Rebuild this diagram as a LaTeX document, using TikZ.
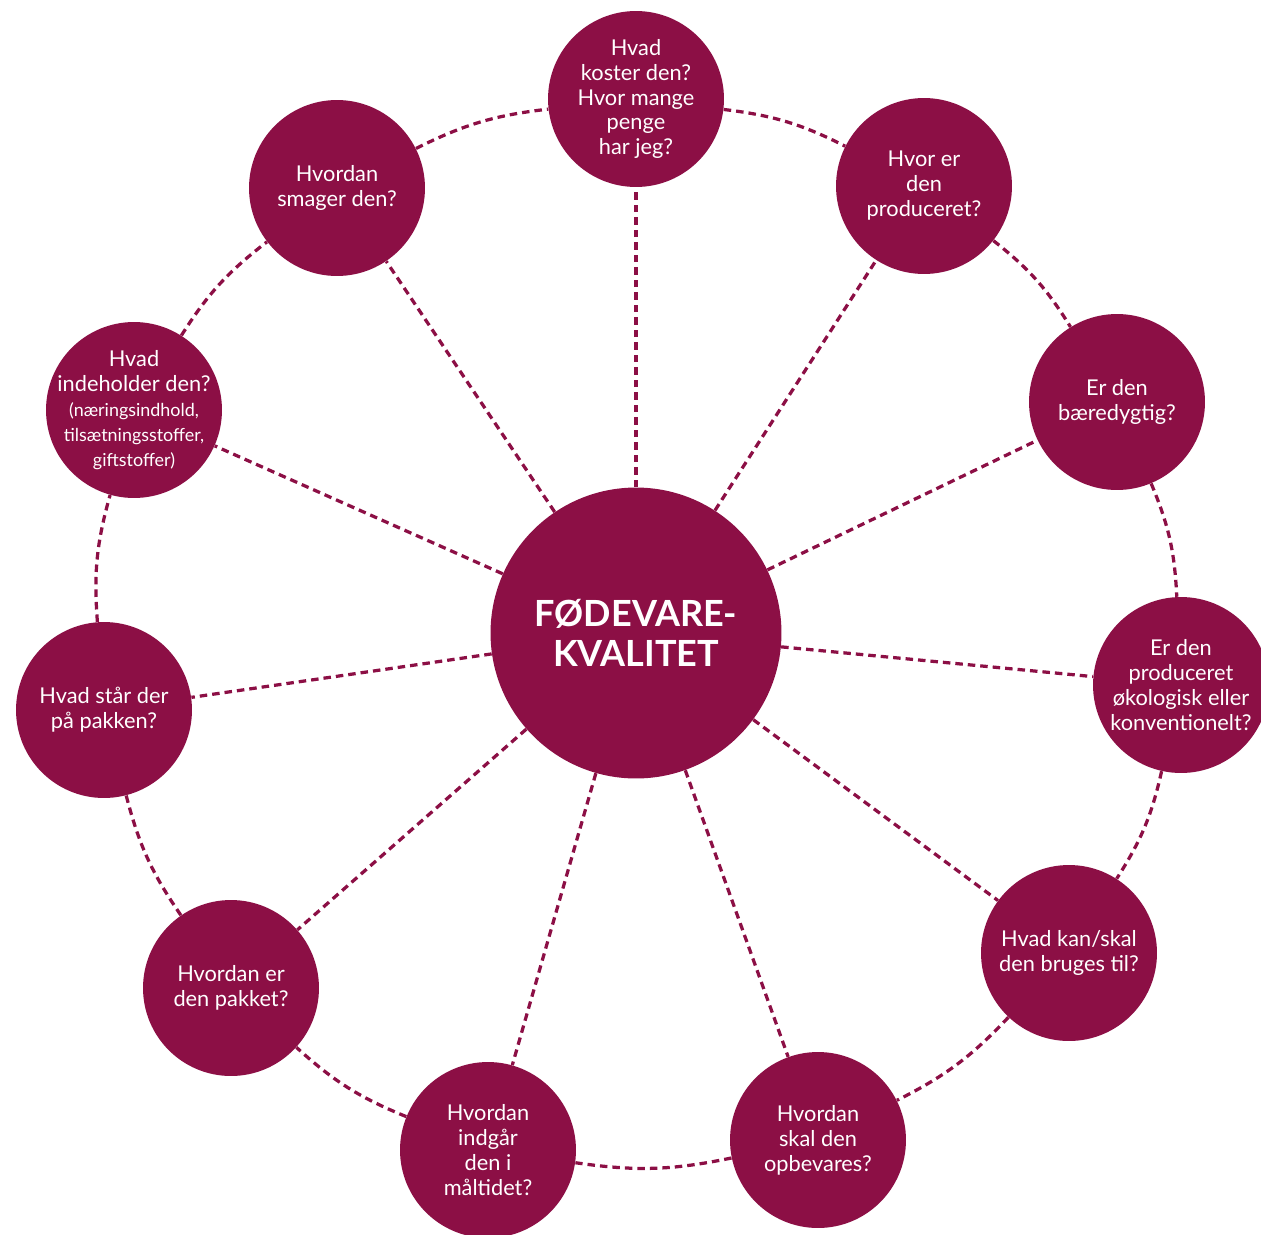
\documentclass[tikz,border=0pt]{standalone}
\usepackage{fontspec}
\setmainfont{Lato}
\definecolor{foodred}{RGB}{140,15,69}
\newcommand{\qsmall}{\fontsize{10.2}{12}\selectfont}

\begin{document}
\begin{tikzpicture}[x=0.02cm, y=-0.02cm,
  question/.style={circle, fill=foodred, text=white, minimum size=3.52cm, inner sep=0pt,
    align=center, font=\fontsize{12.4}{14.2}\selectfont},
  hub/.style={circle, fill=foodred, text=white, minimum size=5.82cm, inner sep=0pt,
    align=center, font=\fontsize{20.5}{22.7}\selectfont\bfseries},
  link/.style={foodred, line width=0.065cm, dash pattern=on 0.15cm off 0.1cm}]
\useasboundingbox (0,0) rectangle (1261,1234);

% Centre
\node[hub] (quality) at (636,633) {FØDEVARE-\\KVALITET};

% Questions round the ring
\node[question] (price) at (636,99) {Hvad\\koster den?\\Hvor mange\\penge\\har jeg?};
\node[question] (origin) at (924,186) {Hvor er\\den\\produceret?};
\node[question] (sustain) at (1117,402) {Er den\\bæredygtig?};
\node[question] (organic) at (1181,685) {Er den\\produceret\\økologisk eller\\konventionelt?};
\node[question] (usage) at (1069,953) {Hvad kan/skal\\den bruges til?};
\node[question] (storage) at (818,1140) {Hvordan\\skal den\\opbevares?};
\node[question] (meal) at (488,1150) {Hvordan\\indgår\\den i\\måltidet?};
\node[question] (packing) at (231,988) {Hvordan er\\den pakket?};
\node[question] (label) at (104,710) {Hvad står der\\på pakken?};
\node[question, inner sep=-0.5cm] (content) at (134,410) {Hvad\\indeholder den?\\\qsmall(næringsindhold,\\\qsmall tilsætningsstoffer,\\\qsmall giftstoffer)};
\node[question] (taste) at (337,188) {Hvordan\\smager den?};

% Spokes
\draw[link] (quality) -- (price);
\draw[link] (quality) -- (origin);
\draw[link] (quality) -- (sustain);
\draw[link] (quality) -- (organic);
\draw[link] (quality) -- (usage);
\draw[link] (quality) -- (storage);
\draw[link] (quality) -- (meal);
\draw[link] (quality) -- (packing);
\draw[link] (quality) -- (label);
\draw[link] (quality) -- (content);
\draw[link] (quality) -- (taste);

% Outer ring
\draw[link] (price) to[bend left=10] (origin);
\draw[link] (origin) to[bend left=10] (sustain);
\draw[link] (sustain) to[bend left=10] (organic);
\draw[link] (organic) to[bend left=10] (usage);
\draw[link] (usage) to[bend left=10] (storage);
\draw[link] (storage) to[bend left=10] (meal);
\draw[link] (meal) to[bend left=10] (packing);
\draw[link] (packing) to[bend left=10] (label);
\draw[link] (label) to[bend left=10] (content);
\draw[link] (content) to[bend left=10] (taste);
\draw[link] (taste) to[bend left=10] (price);
\end{tikzpicture}
\end{document}
